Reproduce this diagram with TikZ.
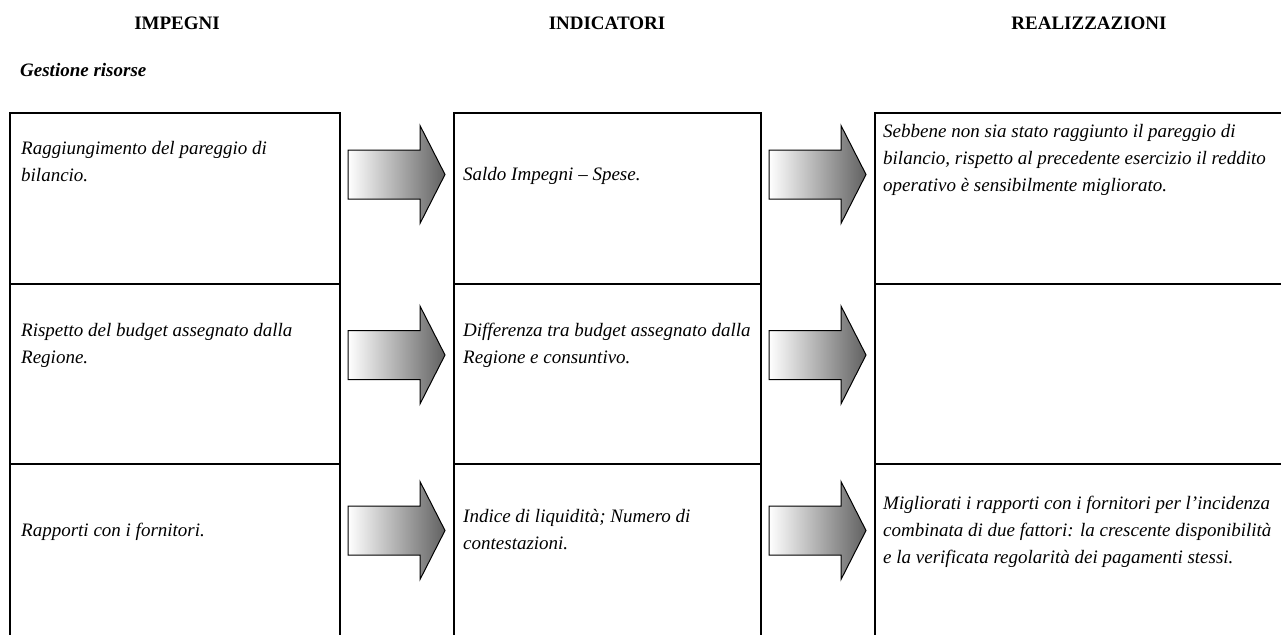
\documentclass[tikz,border=0pt]{standalone}
\usepackage{fontspec}
\setmainfont{Liberation Serif}
\begin{document}
\begin{tikzpicture}[x=1pt,y=-1pt,
  frame/.style={line width=1.8pt},
  txt/.style={anchor=base west, inner sep=0pt, font=\fontsize{19}{27}\selectfont\itshape},
  hdr/.style={anchor=base, inner sep=0pt, font=\fontsize{19}{23}\selectfont\bfseries},
  arrowfill/.style={draw=black, line width=1pt, line join=miter, left color=white, right color=black!62},
  blockarrow/.pic={\path[arrowfill] (0,-24.5) -- (72,-24.5) -- (72,-49) -- (97,0) -- (72,49) -- (72,24.5) -- (0,24.5) -- cycle;}]
\useasboundingbox (0,0) rectangle (1281,634);

% headers
\node[hdr] (h1) at (177,30) {IMPEGNI};
\node[hdr] (h2) at (607,30) {INDICATORI};
\node[hdr] (h3) at (1089,30) {REALIZZAZIONI};
\node[anchor=base west, inner sep=0pt, font=\fontsize{19}{23}\selectfont\bfseries\itshape] (sec) at (20,77) {Gestione risorse};

% column frames
\draw[frame] (10,640) -- (10,113) -- (340,113) -- (340,640);
\draw[frame] (10,284) -- (340,284);
\draw[frame] (10,464) -- (340,464);
\draw[frame] (454,640) -- (454,113) -- (761,113) -- (761,640);
\draw[frame] (454,284) -- (761,284);
\draw[frame] (454,464) -- (761,464);
\draw[frame] (875,640) -- (875,113) -- (1290,113);
\draw[frame] (875,284) -- (1290,284);
\draw[frame] (875,464) -- (1290,464);

% arrows
\pic at (348,174.5) {blockarrow};
\pic at (348,355) {blockarrow};
\pic at (348,530.5) {blockarrow};
\pic at (769,174.5) {blockarrow};
\pic at (769,355) {blockarrow};
\pic at (769,530.5) {blockarrow};

% row 1
\node[txt] (a1) at (21,154) {Raggiungimento del pareggio di};
\node[txt] (a2) at (21,181) {bilancio.};
\node[txt] (b1) at (463,180) {Saldo Impegni – Spese.};
\node[txt] (c1) at (883,137) {Sebbene non sia stato raggiunto il pareggio di};
\node[txt] (c2) at (883,164) {bilancio, rispetto al precedente esercizio il reddito};
\node[txt] (c3) at (883,191) {operativo è sensibilmente migliorato.};

% row 2
\node[txt] (d1) at (21,336) {Rispetto del budget assegnato dalla};
\node[txt] (d2) at (21,363) {Regione.};
\node[txt] (e1) at (463,336) {Differenza tra budget assegnato dalla};
\node[txt] (e2) at (463,363) {Regione e consuntivo.};

% row 3
\node[txt] (f1) at (21,536) {Rapporti con i fornitori.};
\node[txt] (g1) at (463,522) {Indice di liquidità; Numero di};
\node[txt] (g2) at (463,549) {contestazioni.};
\node[txt] (k1) at (883,509) {Migliorati i rapporti con i fornitori per l’incidenza};
\node[txt] (k2) at (883,536) {combinata di due fattori: la crescente disponibilità};
\node[txt] (k3) at (883,563) {e la verificata regolarità dei pagamenti stessi.};
\end{tikzpicture}
\end{document}
